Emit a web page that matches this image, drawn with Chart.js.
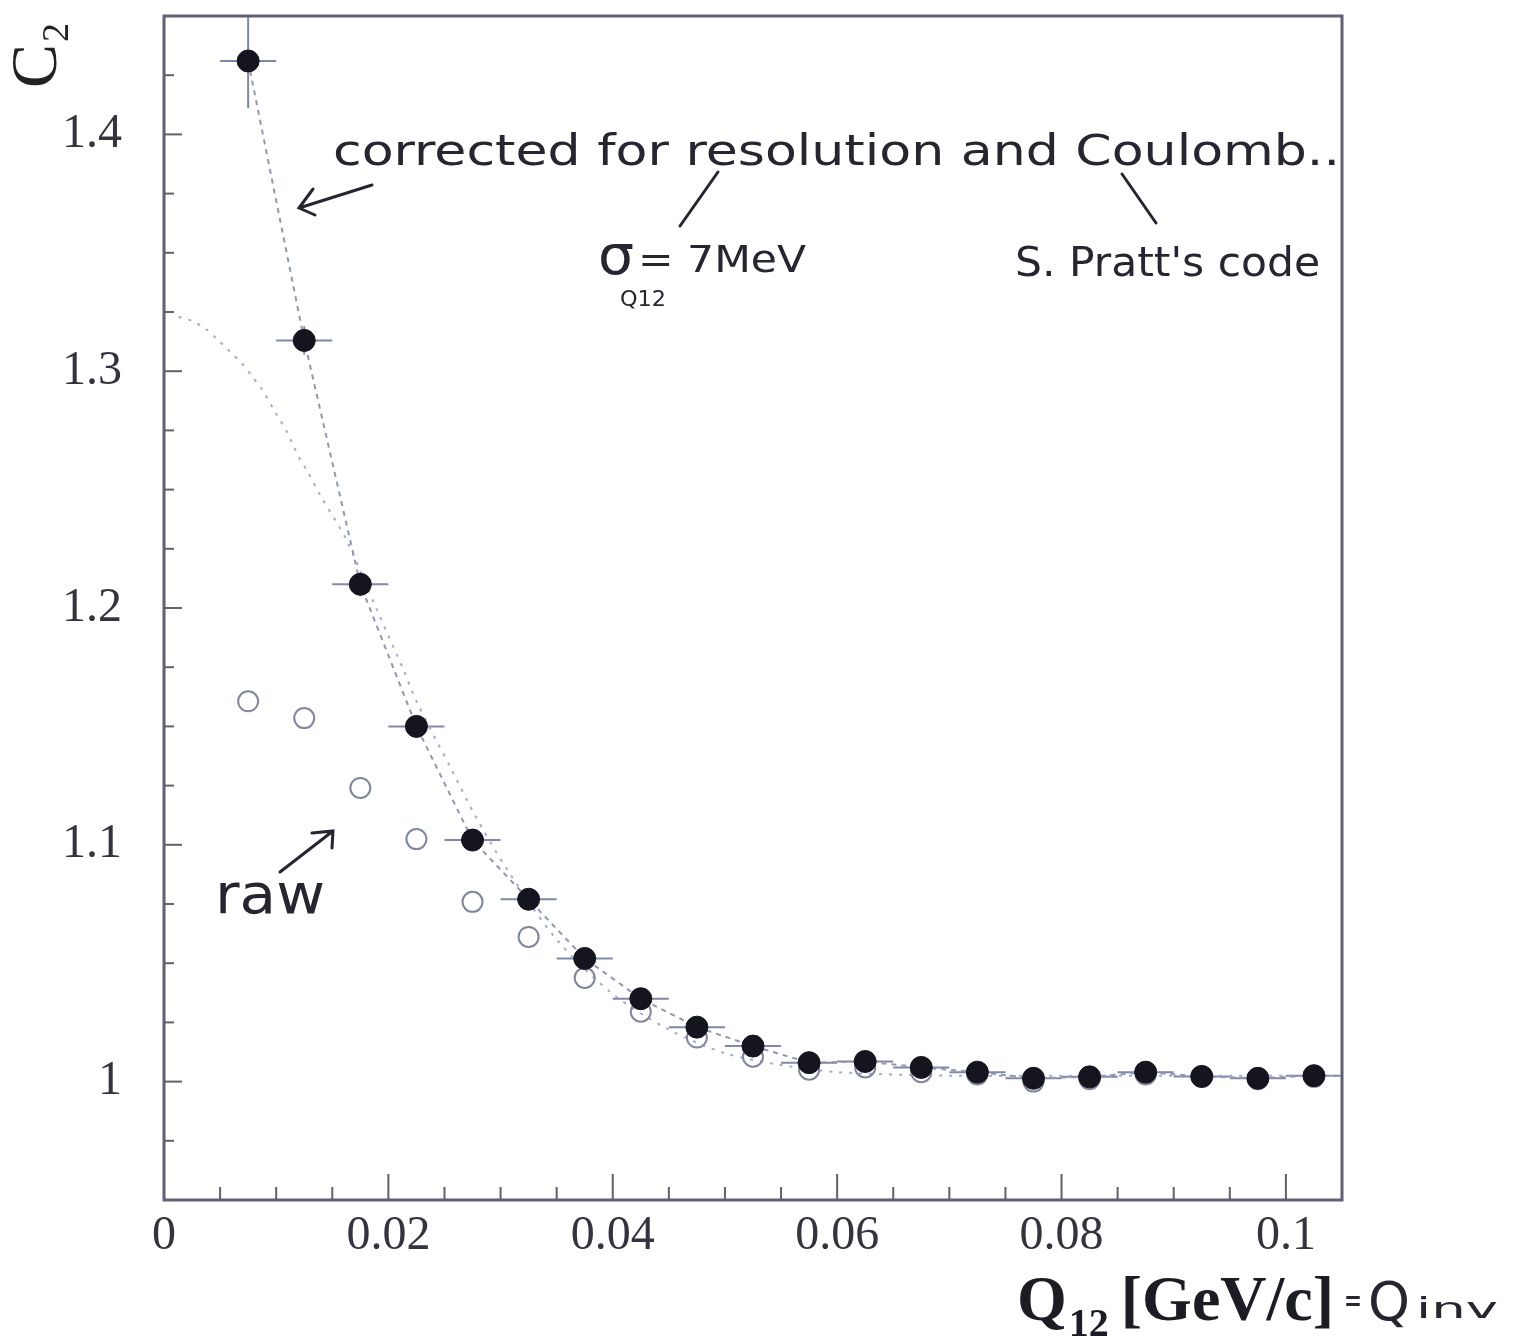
<!DOCTYPE html>
<html>
<head>
<meta charset="utf-8">
<script src="https://cdn.jsdelivr.net/npm/chart.js@4.4.1/dist/chart.umd.min.js"></script>
<style>
  html, body { margin: 0; padding: 0; background: #fff; }
  #wrap { width: 1516px; height: 1336px; }
</style>
</head>
<body>
<div id="wrap"><canvas id="c2Chart" width="1516" height="1336"></canvas></div>
<script>
// Q12 bin centres (GeV/c)
const qBins = [0.0075, 0.0125, 0.0175, 0.0225, 0.0275, 0.0325, 0.0375, 0.0425, 0.0475, 0.0525,
               0.0575, 0.0625, 0.0675, 0.0725, 0.0775, 0.0825, 0.0875, 0.0925, 0.0975, 0.1025];
const qHalfWidth = 0.0025;

// corrected C2 (resolution + Coulomb)
const c2Corrected = [1.431, 1.313, 1.210, 1.150, 1.102, 1.077, 1.052, 1.035, 1.023, 1.015,
                     1.008, 1.0085, 1.006, 1.004, 1.0014, 1.002, 1.004, 1.0022, 1.0014, 1.0025];
const c2CorrErr = [0.02, 0.006, 0.005, 0.004, 0.003, 0.003, 0.003, 0.002, 0.002, 0.002,
                   0.002, 0.002, 0.002, 0.002, 0.002, 0.002, 0.002, 0.002, 0.002, 0.002];

// raw C2
const c2Raw = [1.1606, 1.1535, 1.124, 1.1024, 1.0759, 1.0611, 1.0438, 1.0295, 1.0186, 1.0105,
               1.005, 1.006, 1.004, 1.003, 1.000, 1.001, 1.003, 1.002, 1.001, 1.002];

// fit curve
const fitQ = [0.0013, 0.0025, 0.0037, 0.0049, 0.0058, 0.0069, 0.0078, 0.0087, 0.0100, 0.0109,
              0.0120, 0.0128, 0.0140, 0.0162, 0.0190, 0.0214, 0.0225, 0.0257, 0.0277, 0.0305,
              0.035, 0.040, 0.045, 0.050, 0.055, 0.060, 0.070, 0.080, 0.105];
const fitC2 = [1.3229, 1.3212, 1.3179, 1.3128, 1.3086, 1.3035, 1.2981, 1.2926, 1.282, 1.2749,
               1.2639, 1.2576, 1.247, 1.2293, 1.199, 1.1733, 1.1606, 1.1311, 1.1126, 1.0902,
               1.060, 1.037, 1.022, 1.012, 1.007, 1.004, 1.0025, 1.0025, 1.0025];

const xTicks = [0, 0.02, 0.04, 0.06, 0.08, 0.1];
const xTickLabels = ['0', '0.02', '0.04', '0.06', '0.08', '0.1'];
const yTicks = [1, 1.1, 1.2, 1.3, 1.4];
const yTickLabels = ['1', '1.1', '1.2', '1.3', '1.4'];
const xMinorStep = 0.005;
const yMinorStep = 0.025;

const pts = (xs, ys) => xs.map((x, i) => ({ x: x, y: ys[i] }));

// error bars drawn under the markers
const errorBars = {
  id: 'errorBars',
  beforeDatasetsDraw(chart) {
    const { ctx, chartArea: a, scales: { x, y } } = chart;
    ctx.save();
    ctx.beginPath();
    ctx.rect(a.left, a.top, a.right - a.left, a.bottom - a.top);
    ctx.clip();
    ctx.strokeStyle = '#8088a8';
    ctx.lineWidth = 2;
    qBins.forEach((q, i) => {
      const px = x.getPixelForValue(q);
      const py = y.getPixelForValue(c2Corrected[i]);
      ctx.beginPath();
      ctx.moveTo(x.getPixelForValue(q - qHalfWidth), py);
      ctx.lineTo(x.getPixelForValue(q + qHalfWidth), py);
      ctx.moveTo(px, y.getPixelForValue(c2Corrected[i] - c2CorrErr[i]));
      ctx.lineTo(px, y.getPixelForValue(c2Corrected[i] + c2CorrErr[i]));
      ctx.stroke();
    });
    ctx.restore();
  }
};

// frame with inward ticks, axis titles
const frameAndTitles = {
  id: 'frameAndTitles',
  afterDraw(chart) {
    const { ctx, chartArea: a, scales: { x, y } } = chart;
    ctx.save();
    ctx.strokeStyle = '#5f6170';
    ctx.lineWidth = 3;
    ctx.strokeRect(a.left, a.top, a.right - a.left, a.bottom - a.top);

    ctx.lineWidth = 2;
    const nx = Math.round((x.max - x.min) / xMinorStep);
    for (let i = 0; i <= nx; i++) {
      const v = x.min + i * xMinorStep;
      if (v > x.max) break;
      const px = x.getPixelForValue(v);
      const len = (i % 4 === 0) ? 26 : 13;
      ctx.beginPath();
      ctx.moveTo(px, a.bottom);
      ctx.lineTo(px, a.bottom - len);
      ctx.stroke();
    }
    const ny = Math.round((y.max - y.min) / yMinorStep);
    for (let i = 0; i <= ny; i++) {
      const v = y.min + i * yMinorStep;
      const py = y.getPixelForValue(v);
      const major = Math.abs(v * 10 - Math.round(v * 10)) < 1e-6;
      ctx.beginPath();
      ctx.moveTo(a.left, py);
      ctx.lineTo(a.left + (major ? 18 : 10), py);
      ctx.stroke();
    }

    // y title C2, rotated
    ctx.fillStyle = '#222';
    ctx.save();
    ctx.translate(56, 88);
    ctx.rotate(-Math.PI / 2);
    ctx.font = '66px "Liberation Serif"';
    ctx.textBaseline = 'alphabetic';
    ctx.fillText('C', 0, 0);
    const cw = ctx.measureText('C').width;
    ctx.font = '38px "Liberation Serif"';
    ctx.fillText('2', cw + 2, 12);
    ctx.restore();

    // x title
    ctx.fillStyle = '#1c1c24';
    ctx.textBaseline = 'alphabetic';
    ctx.font = 'bold 64px "Liberation Serif"';
    let tx = 1017;
    ctx.fillText('Q', tx, 1320);
    tx += ctx.measureText('Q').width + 2;
    ctx.font = 'bold 40px "Liberation Serif"';
    ctx.fillText('12', tx, 1336);
    tx += ctx.measureText('12').width + 12;
    ctx.font = 'bold 64px "Liberation Serif"';
    ctx.fillText('[GeV/c]', tx, 1320);
    ctx.restore();
  }
};

// hand-written notes
function handText(ctx, str, left, baseline, width, size) {
  ctx.font = size + 'px "DejaVu Sans"';
  const w = ctx.measureText(str).width;
  ctx.save();
  ctx.translate(left, baseline);
  ctx.scale(width / w, 1);
  ctx.fillText(str, 0, 0);
  ctx.restore();
}

function arrow(ctx, x0, y0, x1, y1, b1, b2) {
  ctx.beginPath();
  ctx.moveTo(x0, y0);
  ctx.lineTo(x1, y1);
  ctx.moveTo(b1[0], b1[1]);
  ctx.lineTo(x1, y1);
  ctx.lineTo(b2[0], b2[1]);
  ctx.stroke();
}

const notes = {
  id: 'notes',
  afterDraw(chart) {
    const ctx = chart.ctx;
    ctx.save();
    ctx.fillStyle = '#262630';
    ctx.strokeStyle = '#262630';
    ctx.lineWidth = 3;
    ctx.lineCap = 'round';
    ctx.textBaseline = 'alphabetic';

    handText(ctx, 'corrected for resolution and Coulomb..', 333, 165, 1007, 42);
    arrow(ctx, 372, 185, 299, 208, [313, 189], [315, 215]);

    ctx.beginPath();
    ctx.moveTo(718, 172); ctx.lineTo(680, 226);
    ctx.moveTo(1122, 174); ctx.lineTo(1156, 223);
    ctx.stroke();

    handText(ctx, 'σ', 598, 274, 36, 56);
    handText(ctx, '= 7MeV', 638, 272, 168, 38);
    handText(ctx, 'Q12', 620, 306, 46, 22);

    handText(ctx, "S. Pratt's code", 1015, 276, 305, 40);

    handText(ctx, 'raw', 215, 913, 110, 56);
    arrow(ctx, 280, 872, 333, 831, [312, 833], [332, 848]);

    // = Q_inv after the axis title
    handText(ctx, '=', 1344, 1312, 18, 36);
    handText(ctx, 'Q', 1368, 1320, 42, 54);
    handText(ctx, 'inv', 1416, 1318, 82, 28);
    ctx.restore();
  }
};

const ctx = document.getElementById('c2Chart').getContext('2d');

new Chart(ctx, {
  type: 'scatter',
  data: {
    datasets: [
      {
        label: 'corrected',
        data: pts(qBins, c2Corrected),
        showLine: true,
        borderColor: '#9097b6',
        borderWidth: 2,
        borderDash: [5, 5],
        pointRadius: 11,
        pointBackgroundColor: '#15151f',
        pointBorderColor: '#15151f',
        pointBorderWidth: 1,
        order: 1
      },
      {
        label: 'raw',
        data: pts(qBins, c2Raw),
        showLine: false,
        pointRadius: 10,
        pointBackgroundColor: 'rgba(0,0,0,0)',
        pointBorderColor: '#80869e',
        pointBorderWidth: 2,
        order: 2
      },
      {
        label: 'fit',
        data: pts(fitQ, fitC2),
        showLine: true,
        borderColor: '#a3abd2',
        borderWidth: 2,
        borderDash: [3, 7],
        pointRadius: 0,
        tension: 0.3,
        order: 3
      }
    ]
  },
  options: {
    responsive: false,
    animation: false,
    devicePixelRatio: 1,
    layout: { padding: { top: 16, right: 174, bottom: 0, left: 0 } },
    plugins: {
      legend: { display: false },
      tooltip: { enabled: false }
    },
    scales: {
      x: {
        type: 'linear',
        min: 0,
        max: 0.105,
        grid: { display: false },
        border: { display: false },
        afterBuildTicks: s => { s.ticks = xTicks.map(v => ({ value: v })); },
        afterFit: s => { s.height = 136; s.paddingLeft = 0; s.paddingRight = 0; },
        ticks: {
          padding: 0,
          color: '#34343f',
          font: { family: '"Liberation Serif"', size: 48 },
          callback: (v, i) => xTickLabels[i]
        }
      },
      y: {
        type: 'linear',
        min: 0.95,
        max: 1.45,
        grid: { display: false },
        border: { display: false },
        afterBuildTicks: s => { s.ticks = yTicks.map(v => ({ value: v })); },
        afterFit: s => { s.width = 164; s.paddingTop = 0; s.paddingBottom = 0; },
        ticks: {
          padding: 34,
          color: '#34343f',
          font: { family: '"Liberation Serif"', size: 48 },
          callback: (v, i) => yTickLabels[i]
        }
      }
    }
  },
  plugins: [errorBars, frameAndTitles, notes]
});
</script>
</body>
</html>
